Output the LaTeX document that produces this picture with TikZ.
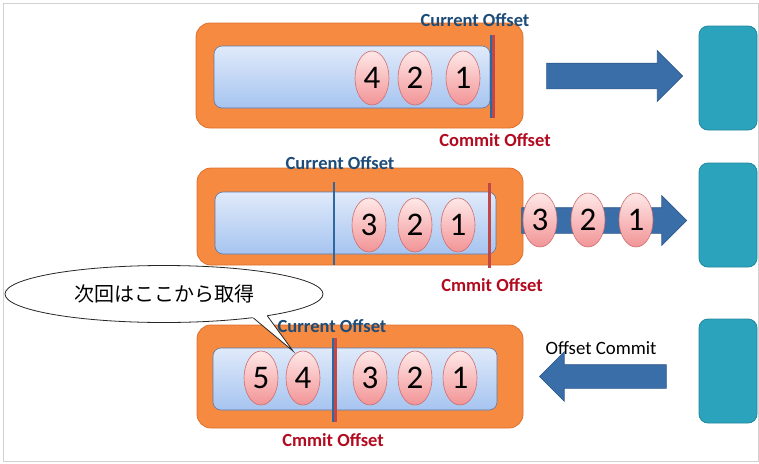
\documentclass[tikz,border=0pt]{standalone}
\usepackage{fontspec}
\setmainfont{Carlito}
\newfontfamily\jpfont{Noto Sans CJK JP}
\usetikzlibrary{shapes.geometric,shapes.arrows,calc}
\definecolor{partfill}{RGB}{246,138,64}
\definecolor{partedge}{RGB}{222,112,44}
\definecolor{logtop}{RGB}{224,234,250}
\definecolor{logbottom}{RGB}{166,196,240}
\definecolor{logedge}{RGB}{92,120,170}
\definecolor{msgtop}{RGB}{255,232,232}
\definecolor{msgbottom}{RGB}{242,148,150}
\definecolor{msgedge}{RGB}{205,110,112}
\definecolor{arrowfill}{RGB}{58,110,168}
\definecolor{arrowedge}{RGB}{44,88,140}
\definecolor{consfill}{RGB}{44,163,188}
\definecolor{consedge}{RGB}{30,136,158}
\definecolor{curblue}{RGB}{46,104,160}
\definecolor{comred}{RGB}{192,72,72}
\definecolor{curtext}{RGB}{30,76,120}
\definecolor{comtext}{RGB}{178,10,30}
\begin{document}
\begin{tikzpicture}[x=1pt,y=-1pt,
partition/.style={rectangle,rounded corners=14pt,fill=partfill,draw=partedge,line width=0.8pt,inner sep=0pt},
log/.style={rectangle,rounded corners=8pt,top color=logtop,bottom color=logbottom,draw=logedge,line width=0.6pt,inner sep=0pt,minimum height=62pt},
msg/.style={ellipse,top color=msgtop,bottom color=msgbottom,draw=msgedge,line width=0.6pt,inner sep=0pt,minimum width=34pt,minimum height=54pt,font=\fontsize{33}{33}\selectfont},
consumer/.style={rectangle,rounded corners=9pt,fill=consfill,draw=consedge,line width=0.8pt,minimum width=58pt,minimum height=104pt,inner sep=0pt},
bigarrow/.style={single arrow,fill=arrowfill,draw=arrowedge,line width=0.6pt,inner sep=0pt,minimum width=0pt,anchor=tip},
curline/.style={draw=curblue,line width=2.2pt},
comline/.style={draw=comred,line width=2.2pt},
curlabel/.style={text=curtext,font=\fontsize{18.5}{19}\selectfont\bfseries},
comlabel/.style={text=comtext,font=\fontsize{18.5}{19}\selectfont\bfseries}]
\useasboundingbox (0,0) rectangle (759,463);
\draw[black!18,line width=0.8pt] (3,3) rectangle (758,461);

\node[partition,minimum width=327pt,minimum height=105pt] (partA) at (359.5,75.5) {};
\node[log,minimum width=276pt] (logA) at (352,77) {};
\node[msg] (a4) at (372,78) {4};
\node[msg] (a2) at (415,78) {2};
\node[msg] (a1) at (463,78) {1};
\draw[curline] (491,35) -- (491,118);
\draw[comline] (493.5,35) -- (493.5,118);
\node[curlabel] (curA) at (475,20) {Current Offset};
\node[comlabel] (comA) at (495,140) {Commit Offset};
\node[bigarrow,minimum height=136pt,inner ysep=12.5pt,single arrow head extend=12.5pt] (fetchA) at (683,76) {};
\node[consumer] (consA) at (728,78) {};

\node[partition,minimum width=326pt,minimum height=97pt] (partB) at (360,216.5) {};
\node[log,minimum width=281pt] (logB) at (355.5,223) {};
\node[msg] (b3) at (369,225) {3};
\node[msg] (b2) at (415,225) {2};
\node[msg] (b1) at (458,225) {1};
\draw[curline] (334,182) -- (334,265);
\draw[comline] (489.5,183) -- (489.5,268);
\node[curlabel] (curB) at (340,163) {Current Offset};
\node[comlabel] (comB) at (492,285) {Cmmit Offset};
\node[bigarrow,minimum height=165pt,inner ysep=12.5pt,single arrow head extend=12pt] (fetchB) at (687,220.5) {};
\node[msg] (s3) at (540,220) {3};
\node[msg] (s2) at (588,220) {2};
\node[msg] (s1) at (636,220) {1};
\node[consumer] (consB) at (728,215) {};

\node[partition,minimum width=326pt,minimum height=103pt] (partC) at (360,376.5) {};
\node[log,minimum width=284pt] (logC) at (355,379) {};
\node[msg] (c5) at (261,378) {5};
\node[msg] (c4) at (303,378) {4};
\node[msg] (c3) at (370,378) {3};
\node[msg] (c2) at (415,378) {2};
\node[msg] (c1) at (460,378) {1};
\draw[curline] (333,338) -- (333,422);
\draw[comline] (335.5,338) -- (335.5,422);
\node[comlabel] (comC) at (333,440) {Cmmit Offset};
\node[bigarrow,shape border rotate=180,minimum height=127pt,inner ysep=11.5pt,single arrow head extend=13pt] (commit) at (539,376.5) {};
\node[font=\fontsize{18.8}{19}\selectfont] (commitlabel) at (601,348) {Offset Commit};
\node[consumer] (consC) at (728,371) {};

\node[ellipse,draw=black!85,fill=white,line width=0.8pt,minimum width=318pt,minimum height=57pt,inner sep=0pt,font=\jpfont\fontsize{20}{20}\selectfont] (note) at (164,294) {次回はここから取得};
\coordinate (tip) at (293,351);
\fill[white] ($(tip)!1.2!(note.-15)$) -- (tip) -- ($(tip)!1.2!(note.-12)$) -- cycle;
\draw[black!85,line width=0.8pt] (note.-15) -- (tip) -- (note.-12);
\node[curlabel] (curC) at (332,326) {Current Offset};
\end{tikzpicture}
\end{document}
